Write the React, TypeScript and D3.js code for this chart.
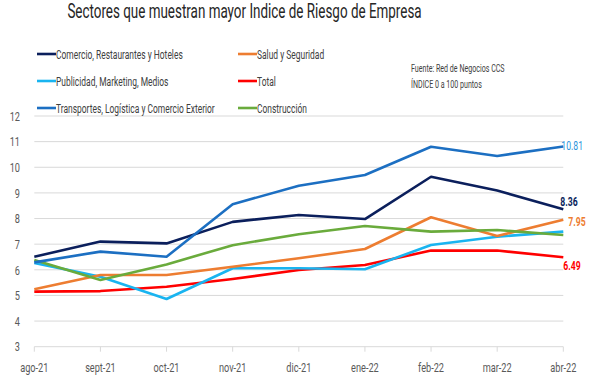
import React from "react";
import * as d3 from "d3";

const months = ["ago-21", "sept-21", "oct-21", "nov-21", "dic-21", "ene-22", "feb-22", "mar-22", "abr-22"];
const comercio = [6.51, 7.1, 7.03, 7.87, 8.14, 7.98, 9.63, 9.09, 8.36];
const salud = [5.24, 5.8, 5.8, 6.12, 6.45, 6.81, 8.05, 7.32, 7.95];
const publicidad = [6.27, 5.73, 4.86, 6.06, 6.06, 6.02, 6.97, 7.29, 7.49];
const total = [5.15, 5.17, 5.34, 5.64, 5.99, 6.19, 6.75, 6.75, 6.49];
const transportes = [6.29, 6.71, 6.51, 8.56, 9.28, 9.7, 10.8, 10.44, 10.81];
const construccion = [6.38, 5.6, 6.21, 6.96, 7.39, 7.71, 7.49, 7.55, 7.36];
const yTicks = [3, 4, 5, 6, 7, 8, 9, 10, 11, 12];

const series = [
  { name: "Comercio, Restaurantes y Hoteles", values: comercio, color: "#0B1F5C" },
  { name: "Salud y Seguridad", values: salud, color: "#ED7D31" },
  { name: "Publicidad, Marketing, Medios", values: publicidad, color: "#19B4F0" },
  { name: "Total", values: total, color: "#FF0000" },
  { name: "Transportes, Logística y Comercio Exterior", values: transportes, color: "#1C6FC2" },
  { name: "Construcción", values: construccion, color: "#6AAB3C" },
];
const drawOrder = [3, 2, 1, 5, 0, 4];

const endLabels = [
  { idx: 4, text: "10.81", color: "#2E95DB", dx: -2, dy: -1, weight: 400 },
  { idx: 0, text: "8.36", color: "#0B1F5C", dx: -3, dy: -8, weight: 700 },
  { idx: 1, text: "7.95", color: "#ED7D31", dx: 5, dy: 1, weight: 700 },
  { idx: 3, text: "6.49", color: "#FF0000", dx: 0, dy: 8, weight: 700 },
];

const FONT = "Roboto, 'Liberation Sans', sans-serif";
const SX = 0.66;

function CText(props: {
  x: number;
  y: number;
  size: number;
  fill: string;
  anchor?: "start" | "middle" | "end";
  weight?: number;
  sx?: number;
  children: React.ReactNode;
}) {
  const { x, y, size, fill, anchor = "start", weight = 400, sx = SX, children } = props;
  return (
    <g transform={`translate(${x},${y}) scale(${sx},1)`}>
      <text x={0} y={0} dy="0.35em" textAnchor={anchor} fontSize={size} fontWeight={weight} fill={fill}>
        {children}
      </text>
    </g>
  );
}

export default function App() {
  const W = 589, H = 378;
  const x = d3.scalePoint<string>().domain(months).range([34.3, 563.3]);
  const y = d3.scaleLinear().domain([3, 12]).range([346.7, 116]);
  const line = d3
    .line<number>()
    .x((_, i) => x(months[i]) as number)
    .y((d) => y(d));

  const legendPos = [
    [37, 54], [238, 54],
    [37, 81], [238, 81],
    [37, 108], [238, 108],
  ];

  return (
    <svg width={W} height={H} style={{ position: "absolute", left: 0, top: 0, fontFamily: FONT }}>
      <rect width={W} height={H} fill="#fff" />
      <CText x={244.5} y={11} size={21} fill="#262626" anchor="middle" sx={0.64}>
        Sectores que muestran mayor Indice de Riesgo de Empresa
      </CText>
      {yTicks.map((t) => (
        <g key={t}>
          {t > 3 && <line x1={34.3} x2={563.3} y1={y(t)} y2={y(t)} stroke="#D9D9D9" strokeWidth={1} />}
          <CText x={20} y={y(t)} size={13.5} fill="#595959" anchor="end" sx={0.68}>
            {t}
          </CText>
        </g>
      ))}
      <line x1={34.3} x2={563.3} y1={y(3)} y2={y(3)} stroke="#D9D9D9" strokeWidth={1} />
      {months.map((m) => (
        <g key={m}>
          <line x1={x(m)} x2={x(m)} y1={y(3)} y2={y(3) + 5} stroke="#D9D9D9" />
          <CText x={x(m) as number} y={367} size={13.5} fill="#595959" anchor="middle" sx={0.68}>
            {m}
          </CText>
        </g>
      ))}
      {drawOrder.map((i) => (
        <path key={i} d={line(series[i].values) || ""} fill="none" stroke={series[i].color} strokeWidth={2.6} strokeLinejoin="round" />
      ))}
      {endLabels.map((l) => {
        const s = series[l.idx];
        const v = s.values[s.values.length - 1];
        return (
          <CText key={l.text} x={563.3 + l.dx} y={y(v) + l.dy} size={13.5} weight={l.weight} fill={l.color} sx={0.64}>
            {l.text}
          </CText>
        );
      })}
      {series.map((s, i) => (
        <g key={s.name}>
          <line x1={legendPos[i][0]} x2={legendPos[i][0] + 19} y1={legendPos[i][1]} y2={legendPos[i][1]} stroke={s.color} strokeWidth={2.6} />
          <CText x={legendPos[i][0] + 19} y={legendPos[i][1]} size={13} fill="#404040" sx={0.65}>
            {s.name}
          </CText>
        </g>
      ))}
      <CText x={411} y={68} size={11} fill="#404040" sx={0.645}>Fuente: Red de Negocios CCS</CText>
      <CText x={411} y={84} size={11} fill="#404040" sx={0.645}>ÍNDICE 0 a 100  puntos</CText>
    </svg>
  );
}
